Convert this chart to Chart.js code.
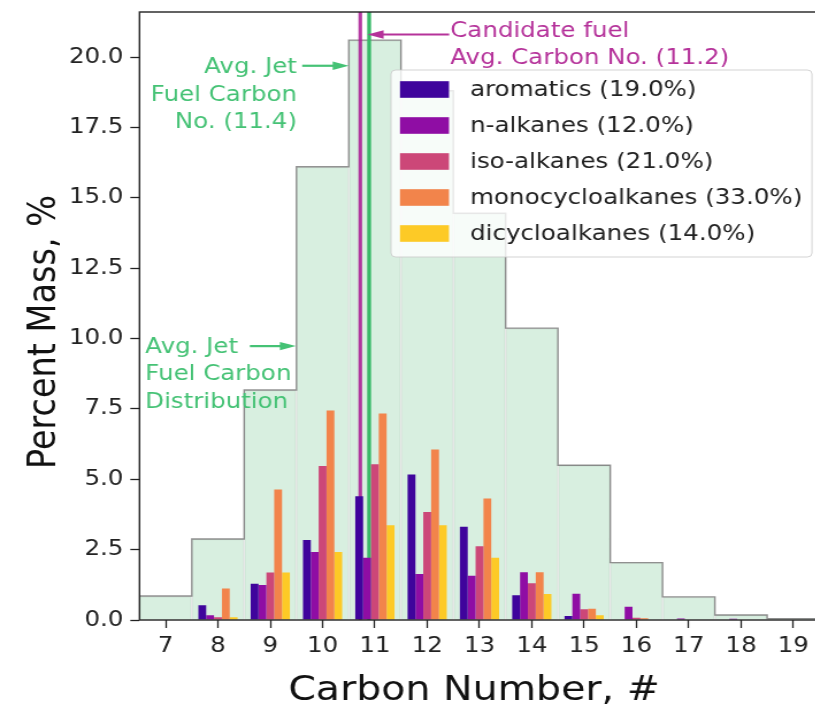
<!DOCTYPE html>
<html>
<head>
<meta charset="utf-8">
<script src="https://cdn.jsdelivr.net/npm/chart.js@4.4.1/dist/chart.umd.min.js"></script>
<style>
  html, body { margin: 0; padding: 0; background: #fff; overflow: hidden; }
  #wrap { transform-origin: 0 0; }
</style>
</head>
<body>
<div id="wrap"><canvas id="chart"></canvas></div>
<script>
// values
const carbonNumbers = [7, 8, 9, 10, 11, 12, 13, 14, 15, 16, 17, 18, 19];
const jetFuelDist   = [0.85, 2.88, 8.17, 16.1, 20.6, 18.8, 14.45, 10.37, 5.5, 2.04, 0.82, 0.18, 0.05];
const aromatics     = [0, 0.52, 1.29, 2.84, 4.40, 5.17, 3.31, 0.88, 0.14, 0, 0, 0, 0];
const nAlkanes      = [0, 0.17, 1.24, 2.42, 2.21, 1.63, 1.57, 1.70, 0.93, 0.47, 0.05, 0.04, 0];
const isoAlkanes    = [0, 0.10, 1.69, 5.47, 5.53, 3.84, 2.62, 1.31, 0.38, 0.08, 0, 0, 0];
const monocyclo     = [0, 1.12, 4.64, 7.44, 7.34, 6.06, 4.32, 1.70, 0.40, 0.06, 0, 0, 0];
const dicyclo       = [0, 0.10, 1.69, 2.42, 3.37, 3.37, 2.21, 0.92, 0.17, 0, 0, 0, 0];
const seriesLabels  = ['aromatics (19.0%)', 'n-alkanes (12.0%)', 'iso-alkanes (21.0%)',
                       'monocycloalkanes (33.0%)', 'dicycloalkanes (14.0%)'];
const seriesColors  = ['#3f049c', '#8f0da4', '#cc4778', '#f2844b', '#fdca26'];
const yTicks = [0, 2.5, 5, 7.5, 10, 12.5, 15, 17.5, 20];
const candidateAvgLine = 10.72;   // drawn position of the "11.2" line
const jetAvgLine = 10.89;         // drawn position of the "11.4" line
const yMax = 21.6;

// the reference is stretched horizontally; draw narrow and stretch with CSS
const S = 1.15;
const W = Math.ceil(830 / S), H = 707;
const canvas = document.getElementById('chart');
canvas.width = W; canvas.height = H;
const wrap = document.getElementById('wrap');
wrap.style.width = W + 'px'; wrap.style.height = H + 'px';
wrap.style.transform = 'scaleX(' + S + ')';

const FONT = '"DejaVu Sans", "Liberation Sans", sans-serif';
const jetGreen = '#45c275';
const candMagenta = '#b5329a';

const notes = [
  { lines: ['Avg. Jet', 'Fuel Carbon', 'No. (11.4)'], x: 9.51, y: 19.42, align: 'right', color: jetGreen },
  { lines: ['Candidate fuel', 'Avg. Carbon No. (11.2)'], x: 12.44, y: 20.72, align: 'left', color: candMagenta },
  { lines: ['Avg. Jet', 'Fuel Carbon', 'Distribution'], x: 6.61, y: 9.48, align: 'left', color: jetGreen }
];
const arrows = [
  { x1: 9.61, x2: 10.50, y: 19.69, color: jetGreen },
  { x1: 12.42, x2: 10.86, y: 20.8, color: candMagenta },
  { x1: 8.61, x2: 9.49, y: 9.73, color: jetGreen }
];

function arrow(ctx, xa, xb, yy, color) {
  const dir = xb > xa ? 1 : -1;
  const hl = 16 / S, hw = 4.2;
  ctx.strokeStyle = color; ctx.fillStyle = color; ctx.lineWidth = 2.2;
  ctx.beginPath(); ctx.moveTo(xa, yy); ctx.lineTo(xb - dir * hl * 0.8, yy); ctx.stroke();
  ctx.beginPath(); ctx.moveTo(xb, yy); ctx.lineTo(xb - dir * hl, yy - hw);
  ctx.lineTo(xb - dir * hl, yy + hw); ctx.closePath(); ctx.fill();
}

const overlay = {
  id: 'overlay',
  afterDatasetsDraw(chart) {
    const { ctx, chartArea: a, scales: { x, y } } = chart;
    ctx.save();
    ctx.strokeStyle = '#222'; ctx.lineWidth = 1.4;
    ctx.strokeRect(a.left, a.top, a.right - a.left, a.bottom - a.top);

    ctx.font = (24.5 / S).toFixed(2) + 'px ' + FONT;
    ctx.textBaseline = 'alphabetic';
    notes.forEach(n => {
      ctx.fillStyle = n.color; ctx.textAlign = n.align;
      n.lines.forEach((t, i) => ctx.fillText(t, x.getPixelForValue(n.x), y.getPixelForValue(n.y) + i * 27.2));
    });
    arrows.forEach(r => arrow(ctx, x.getPixelForValue(r.x1), x.getPixelForValue(r.x2), y.getPixelForValue(r.y), r.color));
    ctx.restore();
  },
  afterDraw(chart) {
    const { ctx } = chart;
    ctx.save();
    // axis titles
    ctx.fillStyle = '#111';
    ctx.textAlign = 'center'; ctx.textBaseline = 'alphabetic';
    ctx.font = (39.5 / S).toFixed(2) + 'px ' + FONT;
    ctx.fillText('Carbon Number, #', 474 / S, 700);
    ctx.translate(45 / S, 332);
    ctx.rotate(-Math.PI / 2);
    ctx.textBaseline = 'middle';
    ctx.font = '33.5px ' + FONT;
    ctx.fillText('Percent Mass, %', 0, 0);
    ctx.restore();

    // legend
    const bx = 391 / S, by = 70, bw = (812 - 391) / S, bh = 187;
    ctx.save();
    ctx.fillStyle = 'rgba(255,255,255,0.8)';
    ctx.strokeStyle = 'rgba(200,200,200,0.8)';
    ctx.lineWidth = 1;
    ctx.beginPath(); ctx.roundRect(bx, by, bw, bh, 4); ctx.fill(); ctx.stroke();
    ctx.font = (24.6 / S).toFixed(2) + 'px ' + FONT;
    ctx.textBaseline = 'middle'; ctx.textAlign = 'left';
    seriesLabels.forEach((lab, i) => {
      const cy = 89.5 + i * 36;
      ctx.fillStyle = seriesColors[i];
      ctx.fillRect(400 / S, cy - 8.3, 49 / S, 16.6);
      ctx.fillStyle = '#222';
      ctx.fillText(lab, 470 / S, cy + 1);
    });
    ctx.restore();
  }
};

const seriesData = [aromatics, nAlkanes, isoAlkanes, monocyclo, dicyclo];
const barSets = seriesData.map((d, i) => ({
  type: 'bar', label: seriesLabels[i], data: d,
  backgroundColor: seriesColors[i], borderWidth: 0,
  categoryPercentage: 0.75, barPercentage: 1, order: 0
}));

const outline = carbonNumbers.flatMap((c, i) => [{ x: c - 0.5, y: jetFuelDist[i] }, { x: c + 0.5, y: jetFuelDist[i] }]);

function noPad(s) { s.paddingTop = 0; s.paddingBottom = 0; s.paddingLeft = 0; s.paddingRight = 0; }

new Chart(canvas, {
  data: {
    labels: carbonNumbers,
    datasets: [
      { type: 'bar', label: 'Avg. Jet Fuel Carbon Distribution', data: jetFuelDist,
        backgroundColor: 'rgba(46,170,90,0.19)', borderColor: 'rgba(0,0,0,0.07)', borderWidth: 1,
        grouped: false, categoryPercentage: 1, barPercentage: 1, order: 5 },
      { type: 'line', data: outline, borderColor: 'rgba(60,60,60,0.55)', borderWidth: 1.4,
        pointRadius: 0, fill: false, order: 4 },
      { type: 'line', data: [{ x: candidateAvgLine, y: 0 }, { x: candidateAvgLine, y: yMax }],
        borderColor: 'rgba(168,24,146,0.85)', borderWidth: 3.2, pointRadius: 0, order: 3 },
      { type: 'line', data: [{ x: jetAvgLine, y: 0 }, { x: jetAvgLine, y: yMax }],
        borderColor: '#36b967', borderWidth: 3.3, pointRadius: 0, order: 3 },
      ...barSets
    ]
  },
  options: {
    responsive: false,
    animation: false,
    devicePixelRatio: 1,
    layout: { padding: { top: 12, right: W - 819.5 / S, bottom: 0, left: 0 } },
    plugins: { legend: { display: false }, tooltip: { enabled: false } },
    scales: {
      x: {
        type: 'linear', min: 6.5, max: 19.5, offset: false,
        afterBuildTicks: s => { s.ticks = carbonNumbers.map(v => ({ value: v })); },
        afterFit: s => { s.height = 87; noPad(s); },
        grid: { offset: false, drawOnChartArea: false, drawTicks: true, tickLength: 8, tickWidth: 1.3, tickColor: '#222' },
        border: { display: false },
        ticks: { color: '#222', padding: 6, font: { family: FONT, size: 21.3 }, callback: v => String(v) },
        title: { display: false }
      },
      y: {
        type: 'linear', min: 0, max: yMax,
        afterBuildTicks: s => { s.ticks = yTicks.map(v => ({ value: v })); },
        afterFit: s => { s.width = 139.5 / S; noPad(s); },
        grid: { drawOnChartArea: false, drawTicks: true, tickLength: 8, tickWidth: 1.3, tickColor: '#222' },
        border: { display: false },
        ticks: { color: '#222', padding: 6, font: { family: FONT, size: 21.3 }, callback: v => v.toFixed(1) },
        title: { display: false }
      }
    }
  },
  plugins: [overlay]
});
</script>
</body>
</html>
